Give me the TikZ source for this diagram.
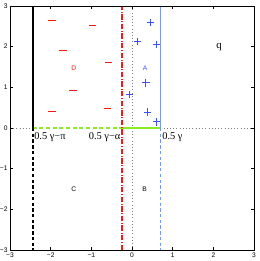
\documentclass[tikz,border=0pt]{standalone}
\usepackage{fontspec}
\setmainfont{Liberation Serif}
\newfontfamily\hv{Liberation Sans}
\definecolor{mred}{RGB}{255,20,20}
\definecolor{mblue}{RGB}{60,80,255}
\definecolor{lblue}{RGB}{120,150,255}
\definecolor{mgreen}{RGB}{140,235,40}
\begin{document}
\begin{tikzpicture}[x=30.5pt,y=30.5pt,
  ticklab/.style={font=\hv\fontsize{5}{6}\selectfont,inner sep=1pt},
  reglab/.style={font=\hv\fontsize{5}{6}\selectfont,inner sep=0pt},
  glab/.style={font=\fontsize{7.8}{9}\selectfont,inner sep=0pt},
  mkminus/.style={draw=mred,line width=0.9pt},
  mkplus/.style={draw=mblue,line width=0.7pt},
  mm/.style={insert path={++(-0.09,0) -- ++(0.18,0)}},
  pp/.style={insert path={++(-0.09,0) -- ++(0.18,0) ++(-0.09,-0.09) -- ++(0,0.18)}}]
\useasboundingbox (-3.246,-3.270) rectangle (3.123,3.147);
% gray dotted guides
\draw[gray,dotted,line width=0.4pt] (0,-3) -- (0,3);
\draw[gray,dotted,line width=0.4pt] (-3,0) -- (-2.44,0);
\draw[gray,dotted,line width=0.4pt] (0.7,0) -- (3,0);
% green boundary
\draw[mgreen,line width=1pt,dash pattern=on 3pt off 2pt] (-2.44,0) -- (-0.25,0);
\draw[mgreen,line width=1pt] (-0.25,0) -- (0.7,0);
% black line
\draw[black,line width=1.6pt] (-2.44,0) -- (-2.44,3);
\draw[black,line width=1.6pt,dash pattern=on 2.5pt off 1.8pt] (-2.44,0) -- (-2.44,-3);
% red dash-dot
\draw[mred,line width=1.3pt,dash pattern=on 4pt off 1.3pt on 0.6pt off 1.3pt] (-0.25,-3) -- (-0.25,3);
% blue line
\draw[lblue,line width=1pt] (0.7,0) -- (0.7,3);
\draw[lblue,line width=1pt,dash pattern=on 2.5pt off 1.8pt] (0.7,0) -- (0.7,-3);
% minus markers
\draw[mkminus] (-1.97,2.64) [mm] (-0.97,2.52) [mm] (-1.70,1.91) [mm] (-0.57,1.62) [mm]
  (-1.45,0.93) [mm] (-1.97,0.40) [mm] (-0.61,0.47) [mm];
% plus markers
\draw[mkplus] (0.46,2.59) [pp] (0.13,2.12) [pp] (0.60,2.06) [pp] (0.34,1.11) [pp]
  (-0.06,0.83) [pp] (0.38,0.39) [pp] (0.60,0.15) [pp];
% region labels
\node[reglab,text=mred] (D) at (-1.43,1.48) {D};
\node[reglab,text=mblue] (A) at (0.32,1.48) {A};
\node[reglab] (C) at (-1.43,-1.51) {C};
\node[reglab] (B) at (0.31,-1.51) {B};
\node[font=\fontsize{8}{9}\selectfont,inner sep=0pt] (q) at (2.14,1.98) {q};
% boundary labels
\node[glab,anchor=west] (lpi) at (-2.41,-0.23) {0.5 γ−π};
\node[glab,anchor=east] (lal) at (-0.28,-0.23) {0.5 γ−α};
\node[glab,anchor=west] (lg) at (0.74,-0.23) {0.5 γ};
% axes box
\draw[line width=0.5pt] (-3,-3) rectangle (3,3);
\foreach \t in {-2,-1,0,1,2} {
  \draw[line width=0.4pt] (\t,-3) -- (\t,-2.93);
  \draw[line width=0.4pt] (\t,3) -- (\t,2.93);
  \draw[line width=0.4pt] (-3,\t) -- (-2.93,\t);
  \draw[line width=0.4pt] (3,\t) -- (2.93,\t);
}
\foreach \t in {-3,-2,-1,0,1,2,3} {
  \node[ticklab,anchor=north] (xt\t) at (\t,-3.02) {\ifnum\t<0 −\the\numexpr-\t\relax\else\t\fi};
  \node[ticklab,anchor=east] (yt\t) at (-3.02,\t) {\ifnum\t<0 −\the\numexpr-\t\relax\else\t\fi};
}
\end{tikzpicture}
\end{document}
